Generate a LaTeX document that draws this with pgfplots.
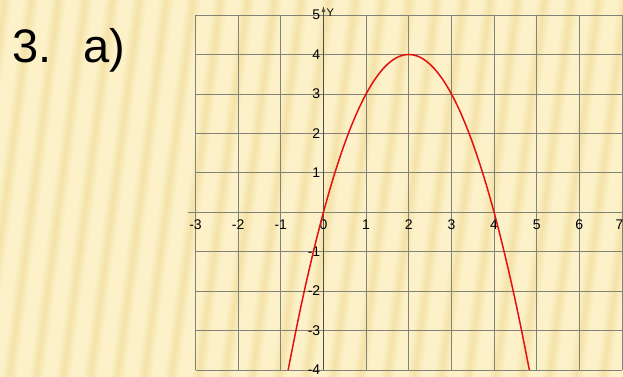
\documentclass[border=0pt]{standalone}
\usepackage{fontspec}
\setmainfont{Liberation Sans}
\usepackage{pgfplots}
\pgfplotsset{compat=1.18}
\usetikzlibrary{arrows.meta}
\definecolor{bgcream}{RGB}{252,241,200}
\definecolor{bgstripe}{RGB}{244,226,168}
\definecolor{gridgray}{RGB}{130,130,120}
\definecolor{curvered}{RGB}{228,16,16}
\begin{document}
\begin{tikzpicture}[x=1pt,y=1pt]
\useasboundingbox (0,0) rectangle (623,377);
\fill[bgcream] (0,0) rectangle (623,377);
\begin{scope}
\clip (0,0) rectangle (623,377);
\foreach \x in {-80,-53,...,640} {
  \begin{scope}[transform canvas={xslant=0.13}]
  \shade[left color=bgcream, right color=bgcream, middle color=bgstripe] (\x,0) rectangle (\x+16,377);
  \end{scope}
}
\end{scope}
\node[anchor=base west, inner sep=0pt, font=\fontsize{47}{50}\selectfont] at (12,314) {3.\hspace{32pt}a)};
\begin{axis}[
  at={(195.5pt,7pt)}, anchor=south west,
  scale only axis, width=426.5pt, height=355pt,
  xmin=-3, xmax=7, ymin=-4, ymax=5,
  axis lines=middle,
  hide obscured x ticks=false,
  hide obscured y ticks=false,
  xtick={-3,...,7},
  xticklabels={-3,-2,-1,0,1,2,3,4,5,6,{\hspace*{-5pt}7}},
  ytick={-4,-3,-2,-1,1,2,3,4,5},
  major tick length=0pt,
  grid=major,
  grid style={gridgray, line width=0.7pt},
  x axis line style={gridgray, line width=0.8pt, -, shorten <=-8pt},
  y axis line style={gridgray!60!black, line width=0.8pt, -{Latex[length=6pt,width=4pt]}, shorten >=-9pt},
  /pgf/number format/assume math mode=true,
  ticklabel style={font=\fontsize{14}{16}\selectfont, inner sep=0pt},
  xticklabel style={anchor=north, yshift=-7pt},
  yticklabel style={anchor=east, xshift=-3pt},
  ylabel={Y},
  every axis y label/.style={at={(axis cs:0,5)}, anchor=west, xshift=3pt, yshift=2pt, font=\fontsize{11}{12}\selectfont, inner sep=0pt},
  clip=false,
]
\addplot[curvered, line width=1.5pt, smooth] coordinates {
(-0.828,-4) (-0.6,-2.76) (-0.4,-1.76) (-0.2,-0.84) (0,0) (0.2,0.76) (0.4,1.44)
(0.6,2.04) (0.8,2.56) (1.0,3) (1.2,3.36) (1.4,3.64) (1.6,3.84) (1.8,3.96)
(2.0,4) (2.2,3.96) (2.4,3.84) (2.6,3.64) (2.8,3.36) (3.0,3) (3.2,2.56)
(3.4,2.04) (3.6,1.44) (3.8,0.76) (4.0,0) (4.2,-0.84) (4.4,-1.76) (4.6,-2.76) (4.828,-4)
};
\end{axis}
\end{tikzpicture}
\end{document}
